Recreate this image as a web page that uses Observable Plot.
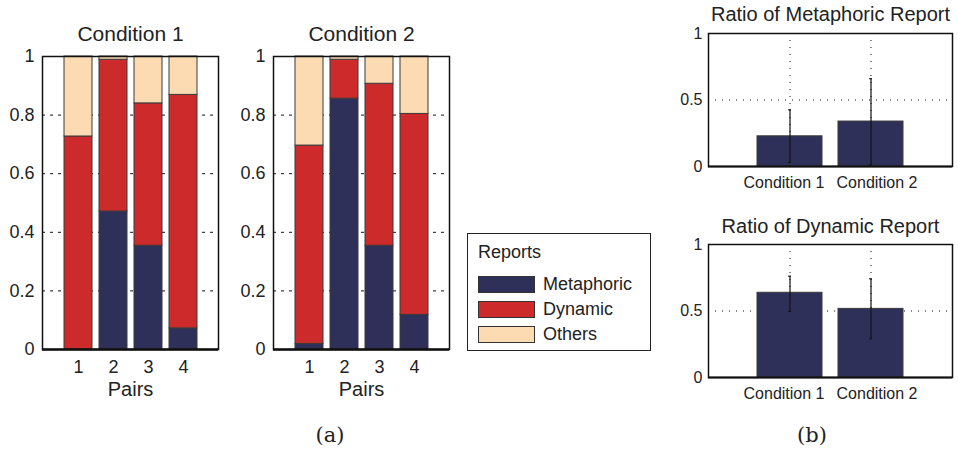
<!DOCTYPE html>
<html><head><meta charset="utf-8">
<script src="https://cdn.jsdelivr.net/npm/d3@7"></script>
<script src="https://cdn.jsdelivr.net/npm/@observablehq/plot@0.6"></script>
<style>
body{margin:0;background:#fff;font-family:"Liberation Sans",Arial,sans-serif;color:#222;}
#root{position:relative;width:958px;height:450px;overflow:hidden;}
.abs{position:absolute;}
.abs svg{overflow:visible;}
</style></head><body><div id="root"></div>
<script>
// ---- data ----
const pairs = [1, 2, 3, 4];
const categories = ["Metaphoric", "Dynamic", "Others"];
const colors = ["#2f3059", "#cc2a2b", "#fcdbb3"];
const cond1Metaphoric = [0.0, 0.471, 0.354, 0.072];
const cond1Dynamic    = [0.727, 0.518, 0.486, 0.797];
const cond1Others     = [0.273, 0.011, 0.160, 0.131];
const cond2Metaphoric = [0.019, 0.856, 0.354, 0.118];
const cond2Dynamic    = [0.677, 0.133, 0.553, 0.686];
const cond2Others     = [0.304, 0.011, 0.093, 0.196];
const conditions = ["Condition 1", "Condition 2"];
const metaphoricRatio = [0.227, 0.338];
const metaphoricLow   = [0.030, 0.013];
const metaphoricHigh  = [0.426, 0.660];
const dynamicRatio = [0.637, 0.516];
const dynamicLow   = [0.496, 0.291];
const dynamicHigh  = [0.762, 0.742];
const leftTicks = [0, 0.2, 0.4, 0.6, 0.8, 1];
const rightTicks = [0, 0.5, 1];

const root = document.getElementById("root");
function place(node, left, top) {
  const d = document.createElement("div");
  d.className = "abs"; d.style.left = left + "px"; d.style.top = top + "px";
  d.appendChild(node); root.appendChild(d); return d;
}
const font = "Liberation Sans, Arial, sans-serif";

function stackPanel(title, M, D, O) {
  const rows = [];
  pairs.forEach((p, i) => {
    rows.push({pair: p, category: "Metaphoric", value: M[i]});
    rows.push({pair: p, category: "Dynamic", value: D[i]});
    rows.push({pair: p, category: "Others", value: O[i]});
  });
  return Plot.plot({
    width: 235, height: 410,
    marginLeft: 42, marginRight: 17, marginTop: 56, marginBottom: 61,
    style: {fontFamily: font, fontSize: "18px", color: "#222", background: "none"},
    x: {type: "band", domain: pairs, paddingInner: 0.2, paddingOuter: 0.6, label: null},
    y: {domain: [0, 1], label: null},
    color: {domain: categories, range: colors},
    marks: [
      Plot.gridY({ticks: [0.2, 0.4, 0.6, 0.8], stroke: "#111", strokeOpacity: 1, strokeDasharray: "3,5"}),
      Plot.barY(rows, Plot.stackY({x: "pair", y: "value", fill: "category", order: categories, stroke: "#3a3a3a", strokeWidth: 1})),
      Plot.frame({stroke: "#111", strokeWidth: 1.5}),
      Plot.ruleY([0], {stroke: "#111", strokeWidth: 2.5}),
      Plot.axisY({ticks: leftTicks, tickSize: 0, tickPadding: 8, tickFormat: d => String(d), label: null, fontSize: 18}),
      Plot.axisX({tickSize: 0, tickPadding: 11, label: null, fontSize: 18}),
      Plot.text([title], {text: d => d, frameAnchor: "top", lineAnchor: "bottom", dy: -16, fontSize: 21}),
      Plot.text(["Pairs"], {text: d => d, frameAnchor: "bottom", lineAnchor: "top", dy: 32, fontSize: 20})
    ]
  });
}

function ratioPanel(title, vals, lo, hi, height, mt, mb, titleDy) {
  const rows = conditions.map((c, i) => ({condition: c, value: vals[i], lo: lo[i], hi: hi[i]}));
  return Plot.plot({
    width: 298, height,
    marginLeft: 48, marginRight: 6, marginTop: mt, marginBottom: mb,
    style: {fontFamily: font, fontSize: "16px", color: "#222", background: "none"},
    x: {type: "band", domain: conditions, paddingInner: 0.2, paddingOuter: 0.6, label: null, axis: null},
    y: {domain: [0, 1], label: null},
    marks: [
      Plot.gridX({stroke: "#111", strokeOpacity: 1, strokeDasharray: "1,6"}),
      Plot.gridY({ticks: [0.5], stroke: "#111", strokeOpacity: 1, strokeDasharray: "1,6"}),
      Plot.barY(rows, {x: "condition", y: "value", fill: colors[0], stroke: "#3a3a3a", strokeWidth: 1}),
      Plot.ruleX(rows, {x: "condition", y1: "lo", y2: "hi", stroke: "#111", strokeWidth: 1.2}),
      Plot.tickY(rows, {x: "condition", y: "hi", stroke: "#111", insetLeft: 31, insetRight: 31}),
      Plot.tickY(rows, {x: "condition", y: "lo", stroke: "#111", insetLeft: 31, insetRight: 31}),
      Plot.frame({stroke: "#111", strokeWidth: 1.5}),
      Plot.ruleY([0], {stroke: "#111", strokeWidth: 2}),
      Plot.axisY({ticks: rightTicks, tickSize: 0, tickPadding: 6, tickFormat: d => String(d), label: null, fontSize: 16}),
      Plot.text(rows.slice(0, 1), {x: "condition", text: "condition", frameAnchor: "bottom", lineAnchor: "top", dy: 10, dx: -6, fontSize: 16}),
      Plot.text(rows.slice(1, 2), {x: "condition", text: "condition", frameAnchor: "bottom", lineAnchor: "top", dy: 10, dx: 6, fontSize: 16}),
      Plot.text([title], {text: d => d, frameAnchor: "top", lineAnchor: "bottom", dy: titleDy, fontSize: 20})
    ]
  });
}

place(stackPanel("Condition 1", cond1Metaphoric, cond1Dynamic, cond1Others), 0, 0);
place(stackPanel("Condition 2", cond2Metaphoric, cond2Dynamic, cond2Others), 231, 0);
place(ratioPanel("Ratio of Metaphoric Report", metaphoricRatio, metaphoricLow, metaphoricHigh, 195, 33, 29, -13), 660, 0);
place(ratioPanel("Ratio of Dynamic Report", dynamicRatio, dynamicLow, dynamicHigh, 205, 39, 33, -12), 660, 205);

// legend
const leg = document.createElement("div");
leg.style.cssText = "position:absolute;left:467px;top:233px;width:184px;height:118px;border:1px solid #222;box-sizing:border-box;font-size:18px;";
const head = document.createElement("div");
head.textContent = "Reports";
head.style.cssText = "position:absolute;left:10px;top:8px;line-height:20px;";
leg.appendChild(head);
categories.forEach((c, i) => {
  const sw = document.createElement("div");
  sw.style.cssText = `position:absolute;left:10px;top:${42 + i * 25}px;width:57px;height:17px;background:${colors[i]};border:1px solid #333;box-sizing:border-box;`;
  const lab = document.createElement("div");
  lab.textContent = c;
  lab.style.cssText = `position:absolute;left:75px;top:${40 + i * 25}px;line-height:20px;`;
  leg.appendChild(sw); leg.appendChild(lab);
});
root.appendChild(leg);

// captions
const captions = [["(a)", 330], ["(b)", 812]];
captions.forEach(([t, x]) => {
  const c = document.createElement("div");
  c.textContent = t;
  c.style.cssText = `position:absolute;left:${x - 40}px;width:80px;text-align:center;top:422px;font-family:'DejaVu Serif','Liberation Serif',serif;font-size:21px;line-height:26px;`;
  root.appendChild(c);
});
</script></body></html>
